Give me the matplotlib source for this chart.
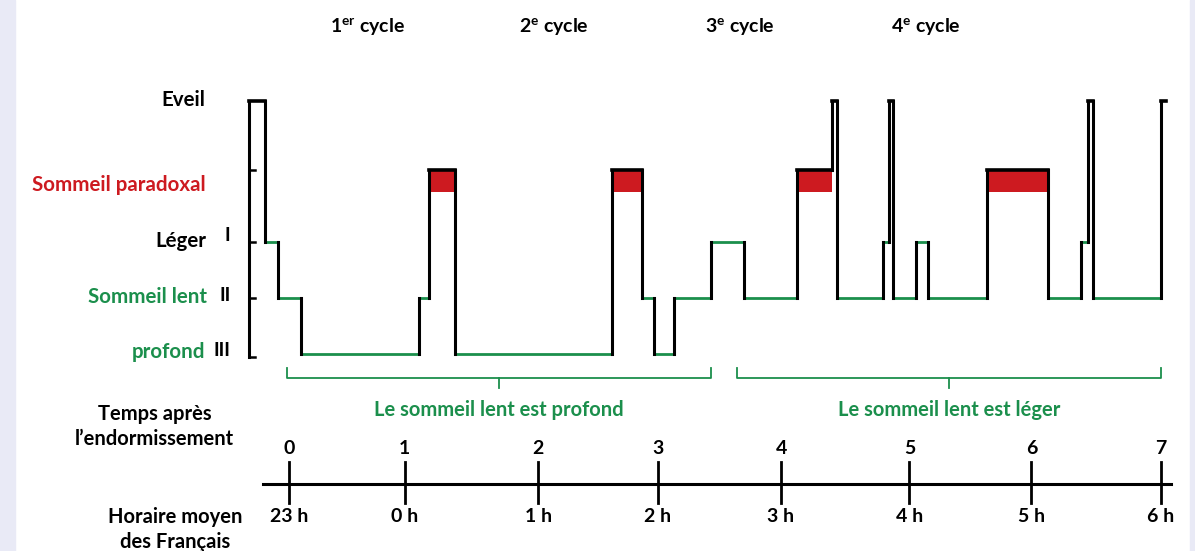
import matplotlib.pyplot as plt
from matplotlib.patches import Rectangle

plt.rcParams['font.family'] = ['Lato', 'DejaVu Sans']
plt.rcParams['font.weight'] = 'bold'
plt.rcParams['mathtext.fontset'] = 'custom'
plt.rcParams['mathtext.rm'] = 'Lato:bold'
plt.rcParams['mathtext.it'] = 'Lato:bold'
plt.rcParams['mathtext.bf'] = 'Lato:bold'

VERT = '#1B8F4C'
ROUGE = '#CD1A20'
FOND = '#E9EAF6'

# hauteur de chaque stade sur le graphe
niveaux = {'Eveil': 4.52, 'Paradoxal': 3.29, 'I': 2.0, 'II': 1.0, 'III': 0.0}

# debut de chaque phase (heures apres l'endormissement) et stade
debut = [-0.32, -0.19, -0.09, 0.10, 1.04, 1.12, 1.33, 2.59, 2.83, 2.93,
         3.09, 3.39, 3.65, 4.08, 4.36, 4.40, 4.77, 4.815, 4.85, 5.03,
         5.13, 5.60, 6.09, 6.36, 6.415, 6.455, 7.00]
phase = ['Eveil', 'I', 'II', 'III', 'II', 'Paradoxal', 'III', 'Paradoxal', 'II', 'III',
         'II', 'I', 'II', 'Paradoxal', 'Eveil', 'II', 'I', 'Eveil', 'II', 'I',
         'II', 'Paradoxal', 'II', 'I', 'Eveil', 'II', 'Eveil']
fin = 7.04

# axe du temps
pos_heures = [0, 0.93, 2.0, 2.96, 3.95, 4.98, 5.96, 7.0]
temps_labels = ['0', '1', '2', '3', '4', '5', '6', '7']
horaire_labels = ['23 h', '0 h', '1 h', '2 h', '3 h', '4 h', '5 h', '6 h']

cycles = ['1$^{er}$ cycle', '2$^{e}$ cycle', '3$^{e}$ cycle', '4$^{e}$ cycle']
pos_cycles = [0.63, 2.13, 3.62, 5.11]

periodes = ['Le sommeil lent est profond', 'Le sommeil lent est léger']
periodes_debut = [-0.02, 3.60]
periodes_fin = [3.39, 7.0]

fig = plt.figure(figsize=(11.95, 5.51), dpi=100)
fig.patches.append(Rectangle((0, 0), 15 / 1195, 1, transform=fig.transFigure, color=FOND, zorder=0))
fig.patches.append(Rectangle((1 - 5 / 1195, 0), 5 / 1195, 1, transform=fig.transFigure, color=FOND, zorder=0))
ax = fig.add_axes([0, 0, 1, 1])
ax.set_xlim(-2.32, 7.273)
ax.set_ylim(-3.518, 6.321)
ax.axis('off')
ax.patch.set_alpha(0)

# hypnogramme
t = debut + [fin]
y = [niveaux[p] for p in phase]
for i, p in enumerate(phase):
    if p in ('I', 'II', 'III'):
        ax.plot([t[i], t[i + 1]], [y[i], y[i]], color=VERT, lw=2.0,
                solid_capstyle='butt', zorder=3)
    else:
        ax.plot([t[i], t[i + 1]], [y[i], y[i]], color='black', lw=2.6,
                solid_capstyle='projecting', zorder=4)
    if p == 'Paradoxal':
        ax.fill_between([t[i], t[i + 1]], y[i] - 0.39, y[i], color=ROUGE, lw=0, zorder=2)
for i in range(1, len(phase)):
    ax.plot([t[i], t[i]], [y[i - 1], y[i]], color='black', lw=2.2,
            solid_capstyle='projecting', zorder=4)

# axe vertical a gauche
x0 = debut[0]
ax.plot([x0, x0], [-0.05, niveaux['Eveil']], color='black', lw=2.2, zorder=4)
for niv in ['Paradoxal', 'I', 'II']:
    ax.plot([x0, x0 + 0.045], [niveaux[niv]] * 2, color='black', lw=1.8, zorder=4)
ax.plot([x0, x0 + 0.045], [-0.05, -0.05], color='black', lw=1.8, zorder=4)

fs = 14.8
ax.text(-0.67, niveaux['Eveil'] + 0.02, 'Eveil', ha='right', va='center', fontsize=fs)
ax.text(-0.67, 3.02, 'Sommeil paradoxal', ha='right', va='center', fontsize=fs, color=ROUGE)
ax.text(-0.665, 2.02, 'Léger', ha='right', va='center', fontsize=fs)
ax.text(-0.655, 1.02, 'Sommeil lent', ha='right', va='center', fontsize=fs, color=VERT)
ax.text(-0.67, 0.04, 'profond', ha='right', va='center', fontsize=fs, color=VERT)
ax.text(-0.47, 2.11, 'I', ha='right', va='center', fontsize=fs - 1)
ax.text(-0.47, 1.04, 'II', ha='right', va='center', fontsize=fs - 1)
ax.text(-0.47, 0.06, 'III', ha='right', va='center', fontsize=fs - 1)

# cycles
for lab, xc in zip(cycles, pos_cycles):
    ax.text(xc, 5.84, lab, ha='center', va='center', fontsize=14)

# accolades
for lab, a, b in zip(periodes, periodes_debut, periodes_fin):
    m = (a + b) / 2
    ax.plot([a, a, b, b], [-0.25, -0.43, -0.43, -0.25], color=VERT, lw=1.3)
    ax.plot([m, m], [-0.43, -0.61], color=VERT, lw=1.3)
    ax.text(m, -1.0, lab, ha='center', va='center', fontsize=14.5, color=VERT)

# axe du temps
ax.plot([-0.21, 7.08], [-2.32, -2.32], color='black', lw=2.2)
for xp, lt, lh in zip(pos_heures, temps_labels, horaire_labels):
    ax.plot([xp, xp], [-1.93, -2.66], color='black', lw=2.0)
    ax.text(xp, -1.68, lt, ha='center', va='center', fontsize=14)
    ax.text(xp, -2.91, lh, ha='center', va='center', fontsize=14)

ax.text(-1.08, -1.30, 'Temps après\nl’endormissement', ha='center', va='center',
        fontsize=14.5, linespacing=1.3)
ax.text(-0.915, -3.13, 'Horaire moyen\ndes Français', ha='center', va='center',
        fontsize=14.5, linespacing=1.3)

fig.savefig('out.png', dpi=100)
